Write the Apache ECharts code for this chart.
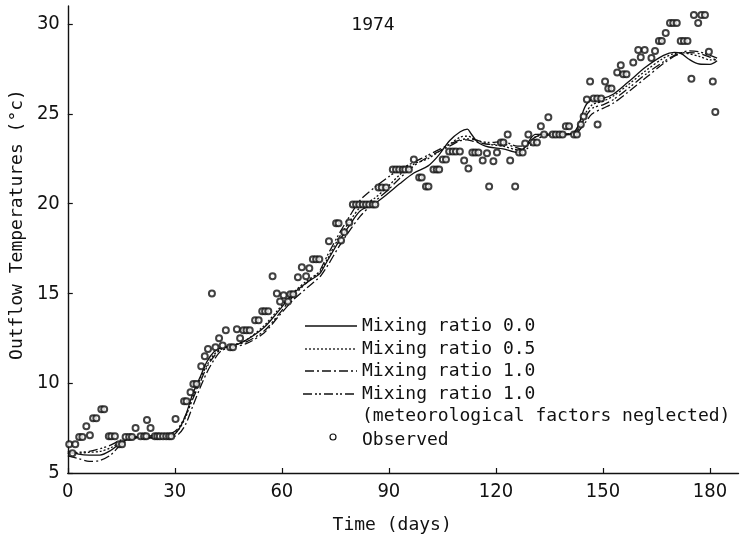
<!DOCTYPE html>
<html><head><meta charset="utf-8">
<script src="https://cdn.jsdelivr.net/npm/echarts@6/dist/echarts.min.js"></script>
<style>html,body{margin:0;padding:0;background:#fff}#c{width:741px;height:542px}</style>
</head><body><div id="c"></div>
<script>
const xTicks = [0, 30, 60, 90, 120, 150, 180];
const yTicks = [5, 10, 15, 20, 25, 30];
const seriesNames = ['Mixing ratio 0.0', 'Mixing ratio 0.5', 'Mixing ratio 1.0', 'Mixing ratio 1.0', 'Observed'];
const legendExtra = '(meteorological factors neglected)';
const titleText = '1974';

const modelDays = [0,3,6,9,12,15,18,21,25,29,31,33,35,37,39,41,43,46,50,55,59,63,67,70,71,73,76,79,82,86,90,93,97,101,104,107,110,112,113,115,118,122,126,128,131,134,141,143,145,147,150,153,157,162,167,170,172,174,177,180,182];
const mix00 = [6.2,6.05,6.0,6.0,6.25,6.7,6.95,7.0,7.0,7.05,7.4,8.2,9.4,10.3,11.2,11.75,11.97,12.05,12.4,13.1,14.0,14.95,15.6,16.0,16.2,16.9,17.9,18.8,19.6,20.0,20.6,21.1,21.7,22.1,22.7,23.5,24.0,24.15,23.9,23.4,23.15,23.05,22.85,23.1,23.85,23.87,23.87,24.3,25.4,25.8,25.86,26.1,26.75,27.6,28.25,28.42,28.35,28.05,27.77,27.75,27.95];
const mix05 = [6.1,6.1,6.15,6.2,6.4,6.75,6.95,7.0,7.0,7.1,7.4,8.1,9.2,10.2,11.0,11.6,11.9,12.1,12.4,13.2,14.1,15.0,15.7,16.1,16.3,17.0,18.1,19.0,19.8,20.3,21.0,21.6,22.2,22.5,22.9,23.3,23.7,23.75,23.7,23.5,23.3,23.2,23.0,23.1,23.7,23.85,23.9,24.2,25.0,25.5,25.7,26.0,26.6,27.4,28.1,28.35,28.4,28.35,28.2,28.0,28.0];
const mix10 = [5.95,5.8,5.65,5.7,6.0,6.6,6.9,6.95,6.95,7.0,7.15,7.7,8.7,9.7,10.6,11.3,11.8,12.0,12.2,12.8,13.7,14.6,15.3,15.8,16.0,16.6,17.6,18.5,19.3,20.1,20.8,21.4,22.1,22.6,22.9,23.2,23.5,23.55,23.5,23.4,23.3,23.3,23.1,23.0,23.5,23.8,23.85,24.0,24.5,25.0,25.3,25.6,26.2,27.0,27.8,28.2,28.35,28.4,28.35,28.15,27.95];
const mix10noMet = [6.1,6.15,6.2,6.35,6.55,6.85,7.0,7.05,7.1,7.2,7.5,8.2,9.1,10.0,10.9,11.5,11.9,12.1,12.3,12.9,13.8,14.8,15.6,16.1,16.4,17.2,18.3,19.3,20.2,20.9,21.5,21.9,22.3,22.7,23.0,23.3,23.55,23.6,23.6,23.5,23.4,23.45,23.2,23.2,23.7,23.85,23.9,24.1,24.8,25.3,25.5,25.8,26.4,27.2,27.9,28.25,28.4,28.5,28.45,28.25,28.1];

const observed = [[0.4,6.6],[1.3,6.1],[2.1,6.6],[3.2,7.0],[4.1,7.0],[5.2,7.6],[6.2,7.1],[7.1,8.05],[8.0,8.05],[9.4,8.55],[10.2,8.55],[11.5,7.05],[12.2,7.05],[13.2,7.05],[14.4,6.6],[15.2,6.6],[16.2,7.0],[17.2,7.0],[18.0,7.0],[19.0,7.5],[20.4,7.05],[21.4,7.05],[22.0,7.05],[22.2,7.95],[23.2,7.5],[24.4,7.05],[25.1,7.05],[25.8,7.05],[26.7,7.05],[27.6,7.05],[28.4,7.05],[29.0,7.05],[30.2,8.0],[32.6,9.0],[33.3,9.0],[34.4,9.5],[35.2,9.95],[36.1,9.95],[37.4,10.95],[38.4,11.5],[39.3,11.9],[40.4,15.0],[41.4,12.0],[42.4,12.5],[43.4,12.1],[44.3,12.95],[45.5,12.0],[46.3,12.0],[47.4,13.0],[48.3,12.5],[49.2,12.95],[50.1,12.95],[51.0,12.95],[52.5,13.5],[53.5,13.5],[54.5,14.0],[55.3,14.0],[56.2,14.0],[57.4,15.95],[58.6,15.0],[59.5,14.55],[60.5,14.9],[61.7,14.55],[62.4,14.95],[63.2,14.95],[64.5,15.9],[65.6,16.45],[66.8,15.95],[67.7,16.4],[68.7,16.9],[69.6,16.9],[70.5,16.9],[73.2,17.9],[75.2,18.9],[75.9,18.9],[76.6,17.95],[77.5,18.4],[78.9,18.95],[79.9,19.95],[80.8,19.95],[81.7,19.95],[82.7,19.95],[83.6,19.95],[84.5,19.95],[85.5,19.95],[86.2,19.95],[87.1,20.9],[88.0,20.9],[89.2,20.9],[91.1,21.9],[92.0,21.9],[92.9,21.9],[93.9,21.9],[94.6,21.9],[95.6,21.9],[97.0,22.45],[98.5,21.45],[99.2,21.45],[100.4,20.95],[101.1,20.95],[102.5,21.9],[103.4,21.9],[104.1,21.9],[105.1,22.45],[106.0,22.45],[106.9,22.9],[107.9,22.9],[108.8,22.9],[109.9,22.9],[111.1,22.4],[112.3,21.95],[113.4,22.85],[114.2,22.85],[115.1,22.85],[116.3,22.4],[117.5,22.8],[118.1,20.95],[119.3,22.35],[120.3,22.85],[121.4,23.4],[122.1,23.4],[123.3,23.85],[124.0,22.4],[125.4,20.95],[126.5,22.85],[127.5,22.85],[128.2,23.35],[129.1,23.85],[130.5,23.4],[131.5,23.4],[132.6,24.3],[133.5,23.85],[134.7,24.8],[135.9,23.85],[136.8,23.85],[137.8,23.85],[138.7,23.85],[139.6,24.3],[140.5,24.3],[141.9,23.85],[142.7,23.85],[143.8,24.4],[144.6,24.85],[145.5,25.8],[146.4,26.8],[147.4,25.85],[148.4,25.85],[148.5,24.4],[149.5,25.85],[150.6,26.8],[151.5,26.4],[152.4,26.4],[154.0,27.3],[155.0,27.7],[155.7,27.2],[156.6,27.2],[158.5,27.85],[159.9,28.55],[160.6,28.15],[161.7,28.55],[163.6,28.1],[164.6,28.5],[165.7,29.05],[166.5,29.05],[167.6,29.5],[168.8,30.05],[169.7,30.05],[170.7,30.05],[171.8,29.05],[172.7,29.05],[173.7,29.05],[174.8,26.95],[175.5,30.5],[176.7,30.05],[177.6,30.5],[178.6,30.5],[179.7,28.45],[180.8,26.8],[181.5,25.1]];

const MONO = "'DejaVu Sans Mono', monospace";
const NUM = "'Liberation Sans Narrow', 'DejaVu Sans Condensed', 'Liberation Sans', sans-serif";
const lineStyles = [
  {type: 'solid'},
  {type: [2, 2]},
  {type: [9, 3, 2, 3]},
  {type: [9, 3, 2, 2, 2, 3]}
];
const modelSets = [mix00, mix05, mix10, mix10noMet];

const chart = echarts.init(document.getElementById('c'), null, {renderer: 'canvas'});

const series = modelSets.map((vals, i) => ({
  name: seriesNames[i] + (i === 3 ? ' *' : ''),
  type: 'line',
  data: modelDays.map((d, k) => [d, vals[k]]),
  showSymbol: false,
  smooth: 0.3,
  lineStyle: Object.assign({color: '#111', width: 1.3}, lineStyles[i]),
  z: 2
}));
series.push({
  name: seriesNames[4],
  type: 'scatter',
  data: observed,
  symbol: 'emptyCircle',
  symbolSize: 6,
  itemStyle: {color: '#111', borderWidth: 1.2},
  z: 3
});

const legendX0 = 305, legendX1 = 357, textX = 362;
const rowY = [326, 349, 371, 394];
const graphic = [];
rowY.forEach((y, i) => {
  graphic.push({type: 'line', shape: {x1: legendX0 - (i === 3 ? 2 : 0), y1: y, x2: legendX1, y2: y},
    style: {stroke: '#111', lineWidth: 1.3, lineDash: lineStyles[i].type === 'solid' ? null : lineStyles[i].type}});
  graphic.push({type: 'text', x: textX, y: y, style: {text: seriesNames[i], font: '18px ' + MONO, fill: '#111', textVerticalAlign: 'middle'}});
});
graphic.push({type: 'text', x: textX, y: 416, style: {text: legendExtra, font: '18px ' + MONO, fill: '#111', textVerticalAlign: 'middle'}});
graphic.push({type: 'circle', shape: {cx: 333, cy: 437, r: 3}, style: {fill: '#fff', stroke: '#111', lineWidth: 1.2}});
graphic.push({type: 'text', x: textX, y: 440, style: {text: seriesNames[4], font: '18px ' + MONO, fill: '#111', textVerticalAlign: 'middle'}});
graphic.push({type: 'text', x: 373, y: 25, style: {text: titleText, font: '18px ' + MONO, fill: '#111', textAlign: 'center', textVerticalAlign: 'middle'}});

chart.setOption({
  animation: false,
  backgroundColor: '#fff',
  grid: {left: 67, top: 6, width: 671.5, height: 467, containLabel: false},
  xAxis: {
    type: 'value', min: 0, max: 188, interval: 30,
    name: 'Time (days)', nameLocation: 'middle', nameGap: 43,
    nameTextStyle: {fontFamily: MONO, fontSize: 18, color: '#111', padding: [0, 22, 0, 0]},
    axisLine: {lineStyle: {color: '#111', width: 1.4}},
    axisTick: {inside: true, length: 5, lineStyle: {color: '#111', width: 1.2}, customValues: xTicks},
    axisLabel: {fontFamily: NUM, fontSize: 20, color: '#111', margin: 9, customValues: xTicks},
    splitLine: {show: false}
  },
  yAxis: {
    type: 'value', min: 5, max: 31, interval: 5,
    name: 'Outflow Temperatures (°c)', nameLocation: 'middle', nameGap: 40, nameRotate: 90,
    nameTextStyle: {fontFamily: MONO, fontSize: 18, color: '#111', padding: [0, 0, 0, 30]},
    axisLine: {show: true, lineStyle: {color: '#111', width: 1.4}},
    axisTick: {show: true, inside: true, length: 5, lineStyle: {color: '#111', width: 1.2}, customValues: yTicks},
    axisLabel: {fontFamily: NUM, fontSize: 20, color: '#111', margin: 8, customValues: yTicks},
    splitLine: {show: false}
  },
  series: series,
  graphic: graphic
});
</script>
</body></html>
